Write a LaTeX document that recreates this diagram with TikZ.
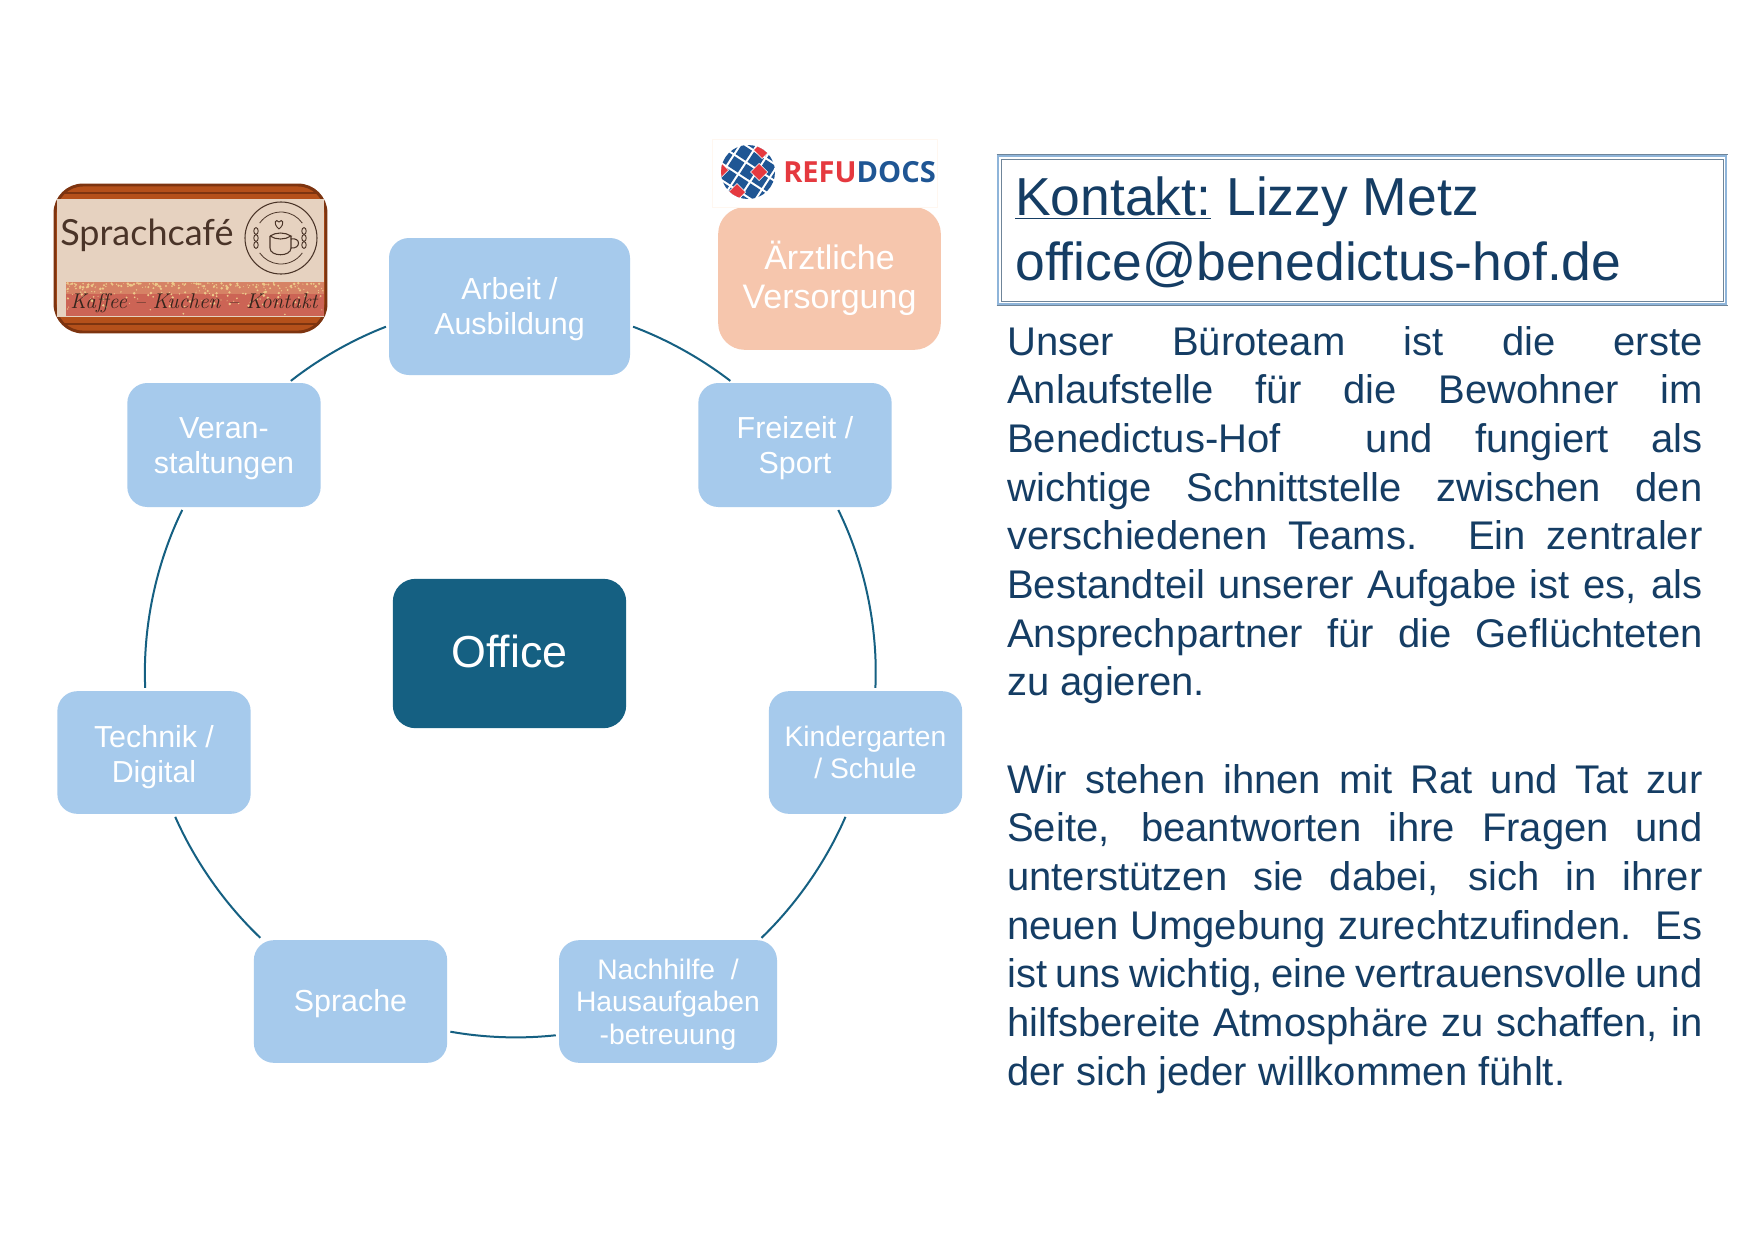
\documentclass[tikz,border=0pt]{standalone}
\usepackage{fontspec}
\setmainfont{Liberation Sans}
\newfontfamily\logofont{Lato}
\newfontfamily\refufont{Open Sans}
\newfontfamily\handfont{Latin Modern Roman}
\definecolor{lightbox}{HTML}{A6CAEC}
\definecolor{peach}{HTML}{F6C6AD}
\definecolor{officeblue}{HTML}{156082}
\definecolor{navy}{HTML}{153D64}
\definecolor{rust}{HTML}{B5501A}
\definecolor{rustdark}{HTML}{7D3410}
\definecolor{beige}{HTML}{E6D2C0}
\definecolor{bandred}{HTML}{CC6455}
\definecolor{bandgold}{HTML}{EDC98A}
\definecolor{cocoa}{HTML}{4A3428}
\definecolor{refured}{HTML}{E5393F}
\definecolor{refublue}{HTML}{1F5694}
\definecolor{framedark}{HTML}{6F8599}
\definecolor{framelight}{HTML}{8FB5DA}
\tikzset{
  x=0.75pt,y=-0.75pt,
  topicbox/.style={fill=lightbox,rounded corners=15pt,inner sep=0pt,text=white,align=center,
    font=\fontsize{22.8}{26.2}\selectfont},
  smallbox/.style={topicbox,font=\fontsize{21.2}{24.3}\selectfont},
  nudge/.style={execute at begin node={\rule{0pt}{#1}}},
  ringarc/.style={draw=officeblue,line width=1.5pt,looseness=0.865,shorten >=2.25pt,shorten <=2.25pt}
}
\newcommand{\jl}[1]{\hbox to 521.5pt{#1}}
\newcommand{\nl}[1]{\hbox{#1}}
\newcommand{\tl}[1]{\rule{0pt}{#1}}
\begin{document}
\begin{tikzpicture}
\useasboundingbox (0,0) rectangle (1754,1240);
\fill[white] (0,0) rectangle (1754,1240);

% topic boxes
\node[topicbox,minimum width=180.75pt,minimum height=102.75pt] (arbeit) at (509.5,306.5) {\tl{21pt}Arbeit /\\Ausbildung};
\node[topicbox,minimum width=145pt,minimum height=93pt] (freizeit) at (795,445) {\tl{21pt}Freizeit /\\Sport};
\node[topicbox,minimum width=145pt,minimum height=93pt] (veran) at (224,445) {\tl{21pt}Veran-\\staltungen};
\node[topicbox,minimum width=145pt,minimum height=92pt] (technik) at (154,752.5) {\tl{23pt}Technik /\\Digital};
\node[smallbox,minimum width=145pt,minimum height=92pt] (kiga) at (865.5,752.5) {Kindergarten\\/ Schule};
\node[topicbox,nudge=20.2pt,minimum width=145pt,minimum height=92pt] (sprache) at (350.5,1001.5) {Sprache};
\node[smallbox,minimum width=163.5pt,minimum height=92pt] (nachhilfe) at (668,1001.5) {\tl{20pt}Nachhilfe~ /\\Hausaufgaben\\-betreuung};
\node[fill=officeblue,rounded corners=17pt,inner sep=0pt,text=white,minimum width=175pt,minimum height=112pt,
  font=\fontsize{33.6}{38}\selectfont,execute at begin node={\rule[-3.4pt]{0pt}{3.4pt}}] (office) at (509.5,653.5) {Office};
\node[fill=peach,rounded corners=20pt,inner sep=0pt,text=white,align=center,minimum width=167pt,minimum height=107pt,
  font=\fontsize{25.5}{29.4}\selectfont] (arzt) at (829.5,278.5) {Ärztliche\\Versorgung};

% ring
\draw[ringarc] (arbeit.-9.6) to[bend left=8.5] (freizeit.135);
\draw[ringarc] (freizeit.-56.7) to[bend left=14.35] (kiga.81.1);
\draw[ringarc] (kiga.253.1) to[bend left=11.3] (nachhilfe.34.1);
\draw[ringarc] (nachhilfe.197.1) to[bend left=8.2] (sprache.-17.9);
\draw[ringarc] (sprache.145.8) to[bend left=11.25] (technik.-72.8);
\draw[ringarc] (technik.98.8) to[bend left=14.3] (veran.237);
\draw[ringarc] (veran.44.8) to[bend left=8.45] (arbeit.189.6);

% Sprachcafe logo
\fill[rust,draw=rustdark,line width=2.2pt,rounded corners=21pt] (55,185) rectangle (326,332);
\draw[rustdark,line width=1pt] (62,193) -- (319,193);
\draw[rustdark,line width=1pt] (62,324) -- (319,324);
\fill[beige] (57,199) rectangle (324,317);
\fill[bandred] (66,282) rectangle (324,316);
\fill[bandred!70!bandgold] (66,282) rectangle (324,294);
\pgfmathsetseed{42}
\foreach \k in {1,...,260}{
  \pgfmathsetmacro{\dx}{66+rnd*257}
  \pgfmathsetmacro{\dy}{283+rnd*rnd*32}
  \pgfmathsetmacro{\dr}{0.4+rnd*1.1}
  \fill[bandgold] (\dx,\dy) circle[radius=\dr];
}
\node[inner sep=0pt,anchor=base west,text=cocoa,font=\logofont\fontsize{27}{30}\selectfont] (cafename) at (60,245) {Sprachcafé};
\node[inner sep=0pt,anchor=center,text=cocoa!70!black,font=\handfont\itshape\fontsize{16}{17}\selectfont] (cafesub) at (194,303) {Kaffee – Kuchen – Kontakt};
\begin{scope}[shift={(281,238)}]
\draw[cocoa,line width=0.8pt] (0,0) circle[radius=36];
\draw[cocoa,line width=0.6pt] (35:26) arc[start angle=35,end angle=145,radius=26];
\draw[cocoa,line width=0.6pt] (215:26) arc[start angle=215,end angle=325,radius=26];
\draw[cocoa,line width=0.8pt] (-11,-2) -- (-11,10) .. controls (-11,19) and (10,19) .. (10,10) -- (10,-2);
\draw[cocoa,line width=0.8pt] (-11,-2) .. controls (-5,-6) and (4,-6) .. (10,-2) .. controls (4,2) and (-5,2) .. (-11,-2);
\draw[cocoa,line width=0.8pt] (10,1) .. controls (20,-1) and (20,11) .. (10,10);
\draw[cocoa,line width=0.7pt] (-2,-9) .. controls (-9,-15) and (-5,-20) .. (-2,-16) .. controls (1,-20) and (5,-15) .. (-2,-9);
\foreach \ky in {-7,0,7}{
  \draw[cocoa,line width=0.7pt] (-25,\ky) ellipse[x radius=2.2,y radius=3.4];
  \draw[cocoa,line width=0.7pt] (23,\ky) ellipse[x radius=2.2,y radius=3.4];
}
\end{scope}

% Refudocs logo
\fill[white,draw=orange!6,line width=0.5pt] (712,139) rectangle (937,207);
\begin{scope}[shift={(748,172)}]
  \clip (0,0) circle[radius=27];
  \fill[white] (-30,-30) rectangle (30,30);
  \begin{scope}[rotate=12]
  \foreach \i in {-3,...,3}{\foreach \j in {-3,...,3}{
    \pgfmathsetmacro{\cx}{(\i-\j)*10}
    \pgfmathsetmacro{\cy}{(\i+\j)*10}
    \fill[refublue] (\cx+8.4,\cy) -- (\cx,\cy+8.4) -- (\cx-8.4,\cy) -- (\cx,\cy-8.4) -- cycle;
  }}
  \end{scope}
  \fill[white] (11,-9) -- (20,0) -- (11,9) -- (2,0) -- cycle;
  \fill[refured] (11,-8) -- (19,0) -- (11,8) -- (3,0) -- cycle;
  \fill[white] (14,-31) -- (23,-22) -- (14,-13) -- (5,-22) -- cycle;
  \fill[refured] (14,-30) -- (22,-22) -- (14,-14) -- (6,-22) -- cycle;
  \fill[white] (-28,-11) -- (-19,-2) -- (-28,7) -- (-37,-2) -- cycle;
  \fill[refured] (-28,-10) -- (-20,-2) -- (-28,6) -- (-36,-2) -- cycle;
  \fill[white] (-11,11) -- (-2,20) -- (-11,29) -- (-20,20) -- cycle;
  \fill[refured] (-11,12) -- (-3,20) -- (-11,28) -- (-19,20) -- cycle;
\end{scope}
\node[inner sep=0pt,anchor=base west,font=\refufont\bfseries\fontsize{21.8}{24}\selectfont] (refutext) at (783,182) {\textcolor{refured}{REFU}\textcolor{refublue}{DOCS}};

% contact box
\draw[framelight,line width=1.6pt] (998,156) rectangle (1726,304);
\draw[framedark,line width=0.9pt] (996.5,154.5) -- (1727.5,154.5);
\draw[framedark,line width=0.9pt] (996.5,305.5) -- (1727.5,305.5);
\draw[framedark,line width=0.6pt] (1001,159) rectangle (1723,301);
\node[inner sep=0pt,anchor=west,text=navy,align=left,font=\fontsize{40.1}{48.7}\selectfont] (contact) at (1015,232.5) {\underline{Kontakt:} Lizzy Metz\\office@benedictus-hof.de};

% body text
\node[inner sep=0pt,anchor=north west,text=navy] (body) at (1007,326) {\vbox{%
  \fontsize{30}{36.5}\selectfont
  \spaceskip=.2em plus 1fil
  \jl{Unser Büroteam ist die erste}
  \jl{Anlaufstelle für die Bewohner im}
  \jl{Benedictus-Hof~~und fungiert als}
  \jl{wichtige Schnittstelle zwischen den}
  \jl{verschiedenen Teams. Ein zentraler}
  \jl{Bestandteil unserer Aufgabe ist es, als}
  \jl{Ansprechpartner für die Geflüchteten}
  \nl{\spaceskip=.278em zu agieren.}
  \vskip\baselineskip
  \jl{Wir stehen ihnen mit Rat und Tat zur}
  \jl{Seite, beantworten ihre Fragen und}
  \jl{unterstützen sie dabei, sich in ihrer}
  \jl{neuen Umgebung zurechtzufinden. Es}
  \jl{ist uns wichtig, eine vertrauensvolle und}
  \jl{hilfsbereite Atmosphäre zu schaffen, in}
  \nl{\spaceskip=.278em der sich jeder willkommen fühlt.}
}};
\end{tikzpicture}
\end{document}
